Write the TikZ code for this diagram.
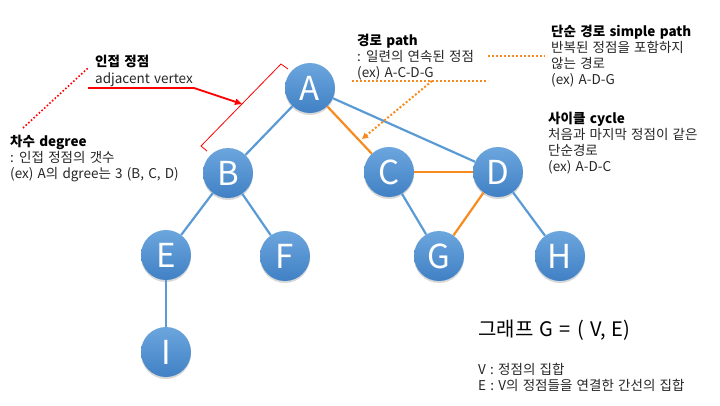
\documentclass[tikz,border=0pt]{standalone}
\usepackage{fontspec}
\setmainfont{Noto Sans CJK KR}[WordSpace={1.4,0.5,0.3}]
\usetikzlibrary{arrows.meta,shadows}
\definecolor{nodetop}{HTML}{6CA6DE}
\definecolor{nodebot}{HTML}{4080C4}
\definecolor{edgeblue}{HTML}{5B9BD5}
\definecolor{edgeorange}{HTML}{F68B1F}
\definecolor{annred}{HTML}{FF0000}
\tikzset{
  vtx/.style={circle, minimum size=50pt, inner sep=0pt, top color=nodetop, bottom color=nodebot, draw=none,
    text=white, font=\fontsize{33}{33}\selectfont,
    drop shadow={shadow xshift=0pt, shadow yshift=-2pt, opacity=0.3}},
  eb/.style={draw=edgeblue, line width=2.2pt},
  eo/.style={draw=edgeorange, line width=2.2pt},
  txt/.style={anchor=base west, inner sep=0pt, font=\fontsize{13.5}{13.5}\selectfont, text=black!85},
  ttl/.style={txt, font=\fontsize{13.5}{13.5}\selectfont\bfseries, text=black},
  reddot/.style={draw=annred, line width=1.6pt, dotted},
  orgdot/.style={draw=edgeorange, line width=2pt, dotted}
}
\begin{document}
\begin{tikzpicture}[x=1pt,y=-1pt]
\useasboundingbox (0,0) rectangle (720,405);
\fill[white] (0,0) rectangle (720,405);
% vertices
\node[vtx] (A) at (310,88) {A};
\node[vtx] (B) at (228,173) {B};
\node[vtx] (C) at (389,172) {C};
\node[vtx] (D) at (498,172) {D};
\node[vtx] (E) at (166,255) {E};
\node[vtx] (F) at (285,256) {F};
\node[vtx] (G) at (439,256) {G};
\node[vtx] (H) at (560,256) {H};
\node[vtx] (I) at (166,352) {I};
% edges
\draw[eb] (A) -- (B);
\draw[eo] (A) -- (C);
\draw[eb] (A) -- (D);
\draw[eb] (B) -- (E);
\draw[eb] (B) -- (F);
\draw[eb] (E) -- (I);
\draw[eo] (C) -- (D);
\draw[eb] (C) -- (G);
\draw[eo] (D) -- (G);
\draw[eb] (D) -- (H);
% annotation coordinates
\coordinate (br1) at (288,69);
\coordinate (br2) at (281,64);
\coordinate (br3) at (201,146);
\coordinate (br4) at (207,151);
\coordinate (ar1) at (88,88);
\coordinate (ar2) at (194,88);
\coordinate (ar3) at (242,104);
\coordinate (rd1) at (23,128);
\coordinate (rd2) at (88,68);
\coordinate (od1) at (488,56);
\coordinate (od2) at (545,56);
\coordinate (od3) at (352,81);
\coordinate (od4) at (488,81);
\coordinate (od5) at (432,81);
\coordinate (od6) at (362,139);
% annotations
\draw[annred, line width=0.8pt] (br1) -- (br2) -- (br3) -- (br4);
\draw[annred, line width=1.8pt, -{Triangle[length=7pt,width=6pt]}] (ar1) -- (ar2) -- (ar3);
\draw[reddot] (rd1) -- (rd2);
\draw[orgdot] (od1) -- (od2);
\draw[orgdot] (od3) -- (od4);
\draw[orgdot, -{Triangle[length=6pt,width=6pt]}] (od5) -- (od6);
% texts
\node[ttl] (t1) at (95,66) {인접 정점};
\node[txt] (t2) at (95,83) {adjacent vertex};
\node[ttl] (t3) at (10,146) {차수 degree};
\node[txt] (t4) at (10,162) {: 인접 정점의 갯수};
\node[txt] (t5) at (10,178) {(ex) A의 dgree는 3 (B, C, D)};
\node[ttl] (t6) at (357,45) {경로 path};
\node[txt] (t7) at (357,61) {: 일련의 연속된 정점};
\node[txt] (t8) at (357,77) {(ex) A-C-D-G};
\node[ttl] (t9) at (551,36) {단순 경로 simple path};
\node[txt] (t10) at (551,52) {반복된 정점을 포함하지};
\node[txt] (t11) at (551,68) {않는 경로};
\node[txt] (t12) at (551,84) {(ex) A-D-G};
\node[ttl] (t13) at (548,123) {사이클 cycle};
\node[txt] (t14) at (548,139) {처음과 마지막 정점이 같은};
\node[txt] (t15) at (548,155) {단순경로};
\node[txt] (t16) at (548,171) {(ex) A-D-C};
\node[txt, font=\fontsize{20}{20}\selectfont, text=black] (t17) at (478,336) {그래프 G = ( V, E)};
\node[txt] (t18) at (478,374) {V : 정점의 집합};
\node[txt] (t19) at (478,390) {E : V의 정점들을 연결한 간선의 집합};
\end{tikzpicture}
\end{document}
